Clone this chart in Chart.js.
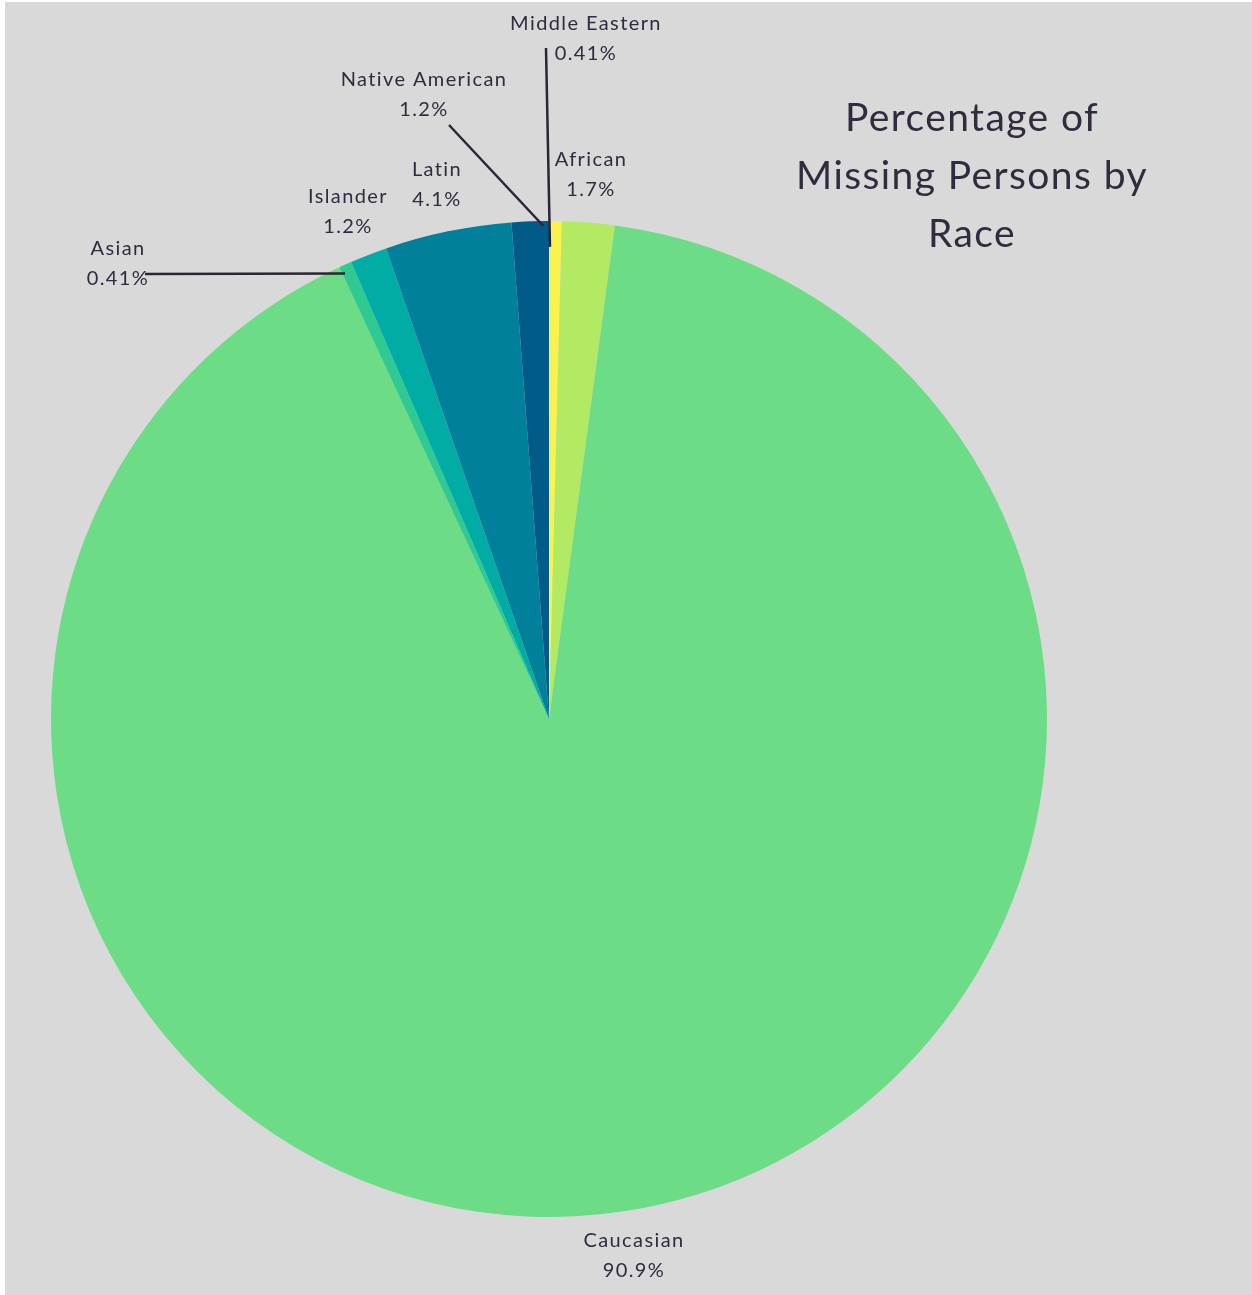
<!DOCTYPE html>
<html>
<head>
<meta charset="utf-8">
<script src="https://cdn.jsdelivr.net/npm/chart.js@4.4.1/dist/chart.umd.min.js"></script>
<style>
  html, body { margin: 0; padding: 0; background: #ffffff; }
  #wrap { position: relative; width: 1252px; height: 1295px; }
</style>
</head>
<body>
<div id="wrap"><canvas id="raceChart" width="1252" height="1295"></canvas></div>
<script>
// data, clockwise from 12 o'clock
const races = ['Middle Eastern', 'African', 'Caucasian', 'Asian', 'Islander', 'Latin', 'Native American'];
const percents = [0.41, 1.7, 90.9, 0.41, 1.2, 4.1, 1.2];
const percentLabels = ['0.41%', '1.7%', '90.9%', '0.41%', '1.2%', '4.1%', '1.2%'];
const sliceColors = ['#fcf24e', '#b3ea63', '#6ddc87', '#2fca92', '#00aca3', '#01809b', '#015b88'];
const titleLines = ['Percentage of', 'Missing Persons by', 'Race'];

// where each label sits relative to the pie centre; leader lines run from (dx, dy)
// into the slice at a fraction of its sweep and of the radius
const labelPlacement = {
    'Middle Eastern': { dx: 37, dy: -695, line: { dx: -3, dy: -671, at: 0.08, r: 0.948 } },
    'African': { dx: 42, dy: -559, line: null },
    'Caucasian': { dx: 85, dy: 522, line: null },
    'Asian': { dx: -431, dy: -470, line: { dx: -404, dy: -445, at: 0.2, r: 0.984 } },
    'Islander': { dx: -201, dy: -522, line: null },
    'Latin': { dx: -112, dy: -549, line: null },
    'Native American': { dx: -125, dy: -639, line: { dx: -100, dy: -594, at: 0.85, r: 0.99 } }
};

const textColor = '#322a3f';

const backgroundPlugin = {
    id: 'pageBackground',
    beforeDraw: function (chart) {
        const ctx = chart.ctx;
        ctx.save();
        ctx.fillStyle = '#d9d9d9';
        ctx.fillRect(5, 2, chart.width - 5, chart.height - 2);
        ctx.restore();
    }
};

const labelsPlugin = {
    id: 'sliceLabels',
    afterDatasetsDraw: function (chart) {
        const ctx = chart.ctx;
        const meta = chart.getDatasetMeta(0);
        ctx.save();

        meta.data.forEach((arc, i) => {
            const name = races[i];
            const place = labelPlacement[name];
            const p = arc.getProps(['x', 'y', 'startAngle', 'endAngle', 'outerRadius'], true);

            if (place.line) {
                const a = p.startAngle + (p.endAngle - p.startAngle) * place.line.at;
                const r = p.outerRadius * place.line.r;
                ctx.strokeStyle = '#2b2535';
                ctx.lineWidth = 2.5;
                ctx.beginPath();
                ctx.moveTo(p.x + place.line.dx, p.y + place.line.dy);
                ctx.lineTo(p.x + Math.cos(a) * r, p.y + Math.sin(a) * r);
                ctx.stroke();
            }

            ctx.fillStyle = textColor;
            ctx.textAlign = 'center';
            ctx.textBaseline = 'middle';
            ctx.letterSpacing = '1.4px';
            ctx.font = '20px Lato';
            ctx.fillText(name, p.x + place.dx, p.y + place.dy);
            ctx.fillText(percentLabels[i], p.x + place.dx, p.y + place.dy + 30);
        });

        // title block
        ctx.font = '39px Lato';
        ctx.letterSpacing = '1.4px';
        titleLines.forEach((line, i) => {
            ctx.fillText(line, 972, 118 + i * 58);
        });
        ctx.restore();
    }
};

const ctx = document.getElementById('raceChart').getContext('2d');
new Chart(ctx, {
    type: 'pie',
    data: {
        labels: races,
        datasets: [{
            data: percents,
            backgroundColor: sliceColors,
            borderWidth: 0
        }]
    },
    options: {
        responsive: false,
        animation: false,
        layout: { padding: { left: 51, right: 205, top: 221, bottom: 78 } },
        plugins: {
            legend: { display: false },
            tooltip: { enabled: false }
        }
    },
    plugins: [backgroundPlugin, labelsPlugin]
});
</script>
</body>
</html>
